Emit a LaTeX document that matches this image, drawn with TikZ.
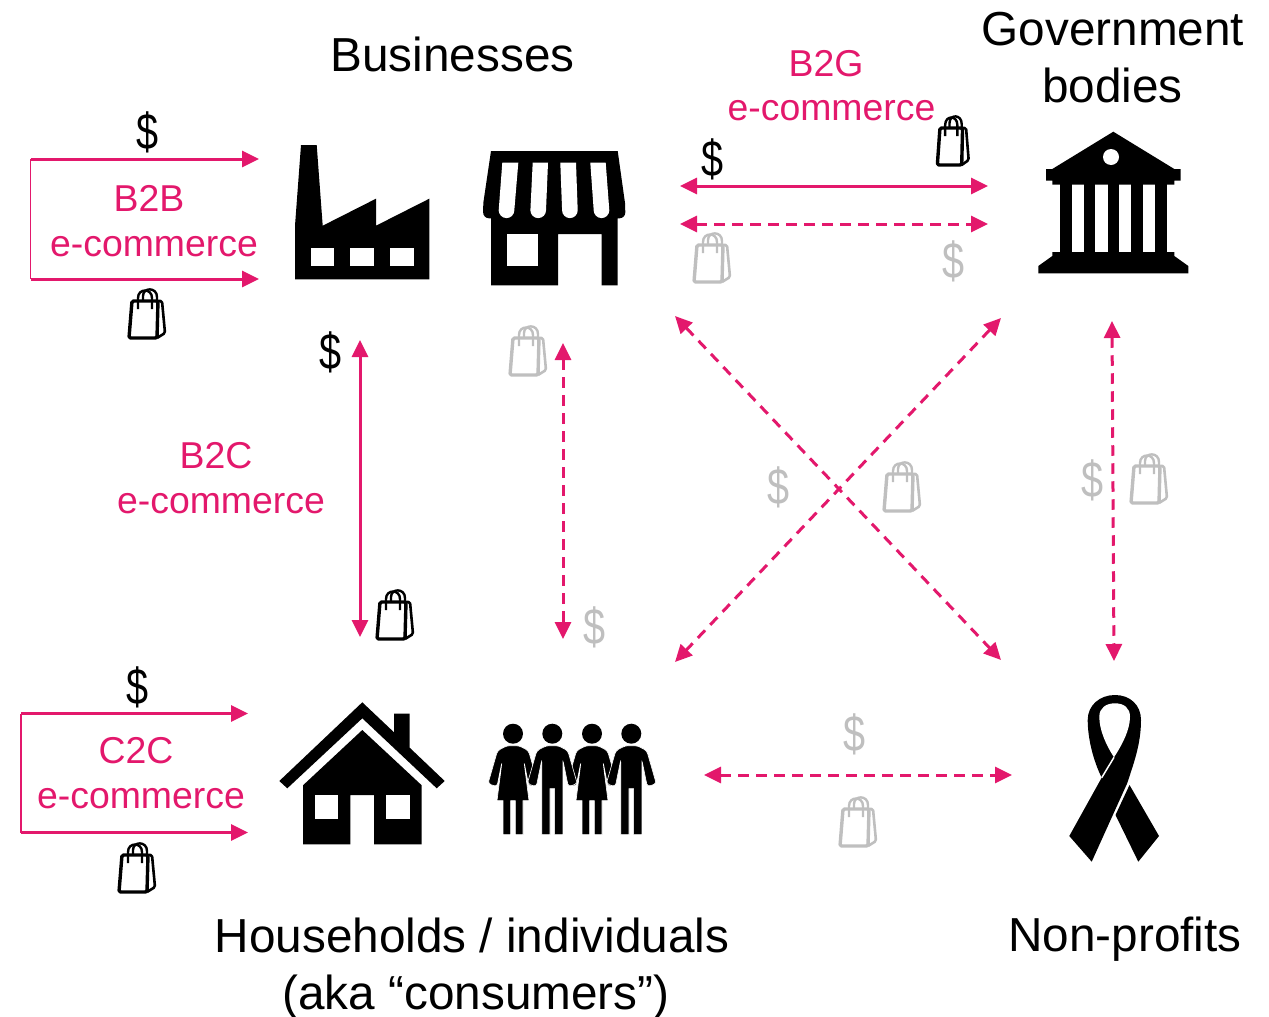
\documentclass[tikz,border=0pt]{standalone}
\usepackage{fontspec}
\setmainfont{Liberation Sans}
\usetikzlibrary{arrows.meta}
\definecolor{linkpink}{HTML}{E3186C}
\definecolor{faded}{HTML}{BFBFBF}
\begin{document}
\begin{tikzpicture}[
    x=1pt,
    y=-1pt,
    title/.style={anchor=base, inner sep=0pt, align=center, font=\fontsize{47.7}{57}\selectfont},
    kind/.style={anchor=base, inner sep=0pt, text=linkpink, font=\fontsize{37.4}{45}\selectfont},
    money/.style={inner sep=0pt, xshift=1pt, xscale=.9, yscale=1.16, transform shape, font=\fontsize{44}{44}\selectfont},
    link/.style={draw=linkpink, line width=3pt, {Triangle[length=17pt,width=16pt]}-{Triangle[length=17pt,width=16pt]}},
    soft/.style={link, dash pattern=on 10.5pt off 7.5pt},
    oneway/.style={draw=linkpink, line width=3pt, -{Triangle[length=17pt,width=16pt]}},
    stem/.style={draw=linkpink, line width=1.8pt},
    shopbag/.pic={
      \draw[line width=3.4pt, rounded corners=1.5pt, line join=round]
        (-15,-14) -- (-18,23) -- (10,23) -- (11,-14) -- cycle;
      \draw[line width=2.6pt, rounded corners=1.5pt, line join=round]
        (11,-14) -- (15,-14) -- (18,18) -- (10,23);
      \draw[line width=2.4pt] (-9,-6) -- (-9,-17) .. controls (-9,-27) and (5,-27) .. (5,-17) -- (5,-6);
      \draw[line width=2.4pt] (-4,-14) -- (-4,-19) .. controls (-4,-28) and (10,-28) .. (10,-18) -- (10,-14);
    },
    woman/.pic={
      \fill (0,0) circle (10);
      \filldraw[draw=white, line width=.6pt] (-6,12) [rounded corners=3pt] -- (6,12) -- (15.5,17) -- (25,50) -- (16,53)
        -- (11,28) [sharp corners] -- (16,67) -- (10,67) -- (10,101) -- (2.3,101) -- (2.3,67)
        -- (-2.3,67) -- (-2.3,101) -- (-10,101) -- (-10,67) -- (-16,67) [rounded corners=3pt] -- (-11,28)
        -- (-16,53) -- (-25,50) -- (-15.5,17) -- cycle;
    },
    man/.pic={
      \fill (0,0) circle (10);
      \filldraw[draw=white, line width=.6pt] (-6,12) [rounded corners=3pt] -- (6,12) -- (15.5,17) -- (25,50) -- (16,53)
        -- (10.5,26) [sharp corners] -- (10.5,101) -- (2.3,101) -- (2.3,55) -- (-2.3,55) -- (-2.3,101)
        -- (-10.5,101) [rounded corners=3pt] -- (-10.5,26) -- (-16,53) -- (-25,50) -- (-15.5,17) -- cycle;
    }]

    \useasboundingbox (0,0) rectangle (1269,1017);

    % Sector titles
    \node[title] (businesses) at (452.5,71.5) {Businesses};
    \node[title] (government) at (1113,45.5) {Government};
    \node[title] (bodies) at (1112.5,102.5) {bodies};
    \node[title] (households) at (472,952.5) {Households / individuals};
    \node[title] (consumers) at (476,1009.5) {(aka “consumers”)};
    \node[title] (nonprofits) at (1125,951.5) {Non-profits};

    % Link kinds
    \node[kind] (b2g) at (826,76.5) {B2G};
    \node[kind] (b2gtext) at (831.5,120.5) {e-commerce};
    \node[kind] (b2b) at (149,211.5) {B2B};
    \node[kind] (b2btext) at (154,256.5) {e-commerce};
    \node[kind] (b2c) at (216,468.5) {B2C};
    \node[kind] (b2ctext) at (221,513.5) {e-commerce};
    \node[kind] (c2c) at (136,763.5) {C2C};
    \node[kind] (c2ctext) at (141,808.5) {e-commerce};

    % Link ends
    \coordinate (gTopL) at (680,186);
    \coordinate (gTopR) at (988,186);
    \coordinate (gLowL) at (680,224);
    \coordinate (gLowR) at (988,224);
    \coordinate (cSolidT) at (360,340);
    \coordinate (cSolidB) at (360,637);
    \coordinate (cSoftT) at (563,343);
    \coordinate (cSoftB) at (563,639);
    \coordinate (crossTL) at (675,316);
    \coordinate (crossBR) at (1001,660);
    \coordinate (crossTR) at (1001,318);
    \coordinate (crossBL) at (675,662);
    \coordinate (npT) at (1112,321);
    \coordinate (npB) at (1114,661);
    \coordinate (npL) at (704,775);
    \coordinate (npR) at (1012,775);
    \coordinate (bbT) at (30.5,159);
    \coordinate (bbB) at (30.5,279);
    \coordinate (bbTR) at (259,159);
    \coordinate (bbBR) at (259,279);
    \coordinate (ccT) at (21,713.5);
    \coordinate (ccB) at (21,832.5);
    \coordinate (ccTR) at (248,713.5);
    \coordinate (ccBR) at (248,832.5);

    % Two-way links
    \draw[link] (gTopL) -- (gTopR);
    \draw[soft] (gLowL) -- (gLowR);
    \draw[link] (cSolidT) -- (cSolidB);
    \draw[soft] (cSoftT) -- (cSoftB);
    \draw[soft] (crossTL) -- (crossBR);
    \draw[soft] (crossTR) -- (crossBL);
    \draw[soft] (npT) -- (npB);
    \draw[soft] (npL) -- (npR);

    % Same-sector links
    \draw[stem] (bbT) -- (bbB);
    \draw[oneway] (bbT) -- (bbTR);
    \draw[oneway] (bbB) -- (bbBR);
    \draw[stem] (ccT) -- (ccB);
    \draw[oneway] (ccT) -- (ccTR);
    \draw[oneway] (ccB) -- (ccBR);

    % Money and goods
    \foreach \n/\x/\y in {1/147/132, 2/712/159, 3/330/352, 4/137/687}
      \node[money] (dollar\n) at (\x,\y) {\$};
    \foreach \n/\x/\y in {5/953/261, 6/778/487, 7/1091/480, 8/594/627, 9/854/734}
      \node[money, text=faded] (dollar\n) at (\x,\y) {\$};
    \foreach \x/\y in {147/315, 395/616, 137/869}
      \pic at (\x,\y) {shopbag};
    \pic[xscale=.87] at (953,142) {shopbag};
    \foreach \x/\y in {712/259, 528/352, 902/488, 1149/480, 858/823}
      \pic[faded] at (\x,\y) {shopbag};

    % Factory
    \fill (301,145) -- (316.7,145) -- (322.7,225.7) -- (376,198.7) -- (376,225.7) -- (429.3,198.7)
      -- (429.3,279.3) -- (295,279.3) -- (295,225.7) -- cycle;
    \foreach \x in {310.7,350.3,390}
      \fill[white] (\x,247.7) rectangle ++(23.6,18);

    % Shop
    \fill (491,151) -- (617.7,151) -- (625,203) [rounded corners=6pt] -- (625.5,218.3) [sharp corners] -- (617.7,218.3)
      -- (617.7,285.3) -- (601.7,285.3) -- (601.7,234) -- (558,234) -- (558,285.3) -- (491,285.3) -- (491,218.3)
      [rounded corners=6pt] -- (483,218.3) [sharp corners] -- (483.3,203) -- cycle;
    \fill[white] (506.7,234) rectangle (538.3,265.7);
    \foreach \a/\b/\c/\d in {502.3/518.3/498.7/514.3, 532.7/548/530.3/546, 560.3/576/562/577.7, 590.3/605.7/593.7/609.3}
      \fill[white] (\a,162.7) -- (\b,162.7) -- (\d,210.3) arc[start angle=0, end angle=180, radius=7.8] -- cycle;

    % Government building
    \fill (1113.3,131.7) -- (1174.3,169) -- (1180.7,169) -- (1180.7,180.7) -- (1174.3,180.7) -- (1174.3,184.7)
      -- (1052.3,184.7) -- (1052.3,180.7) -- (1046,180.7) -- (1046,169) -- (1052.3,169) -- cycle;
    \fill (1052.3,252) -- (1174.3,252) -- (1174.3,256) -- (1188.3,266) -- (1188.3,273.3) -- (1038.3,273.3)
      -- (1038.3,266) -- (1052.3,256) -- cycle;
    \foreach \x in {1060,1083.7,1107.5,1131.2,1155}
      \fill (\x,184) rectangle ++(11.7,69);
    \fill[white] (1111,157) circle (8);

    % House
    \fill (362.3,702.3) -- (394,732.3) -- (394,713.7) -- (409.7,713.7) -- (409.7,747.7) -- (444.7,781) -- (436.7,788.3)
      -- (362.3,718.3) -- (287.3,788.3) -- (279.3,781) -- cycle;
    \fill (362.3,730) -- (421.7,785.3) -- (421.7,844.3) -- (374,844.3) -- (374,795) -- (350.3,795) -- (350.3,844.3)
      -- (303,844.3) -- (303,785.3) -- cycle;
    \fill[white] (314.7,795) rectangle ++(23.6,23.7);
    \fill[white] (386,795) rectangle ++(23.7,23.7);

    % People
    \pic at (513,733.7) {woman};
    \pic at (592,733.7) {woman};
    \pic at (552.3,733.7) {man};
    \pic at (631.3,733.7) {man};

    % Ribbon
    \fill (1069.3,836) -- (1101.7,777.7) .. controls (1093,760) and (1087.7,738) .. (1087.7,720)
      .. controls (1087.7,705) and (1100,695) .. (1115,695) .. controls (1130,695) and (1141,705) .. (1141,720)
      .. controls (1141,745) and (1133,765) .. (1127.3,783) -- (1091.7,861.7) -- cycle;
    \fill[white] (1114,757.3) .. controls (1106,745) and (1099.3,730) .. (1099.3,716.7)
      .. controls (1099.3,708) and (1106,703.3) .. (1115,703.3) .. controls (1124,703.3) and (1130,708) .. (1130,716.7)
      .. controls (1130,730) and (1122,745) .. (1114,757.3);
    \draw[white, line width=1.5pt] (1101.7,777.7) -- (1114,757.3);
    \fill (1129.5,785) -- (1159,836) -- (1138.3,861.7) -- (1115.5,815) -- cycle;
  \end{tikzpicture}
\end{document}
